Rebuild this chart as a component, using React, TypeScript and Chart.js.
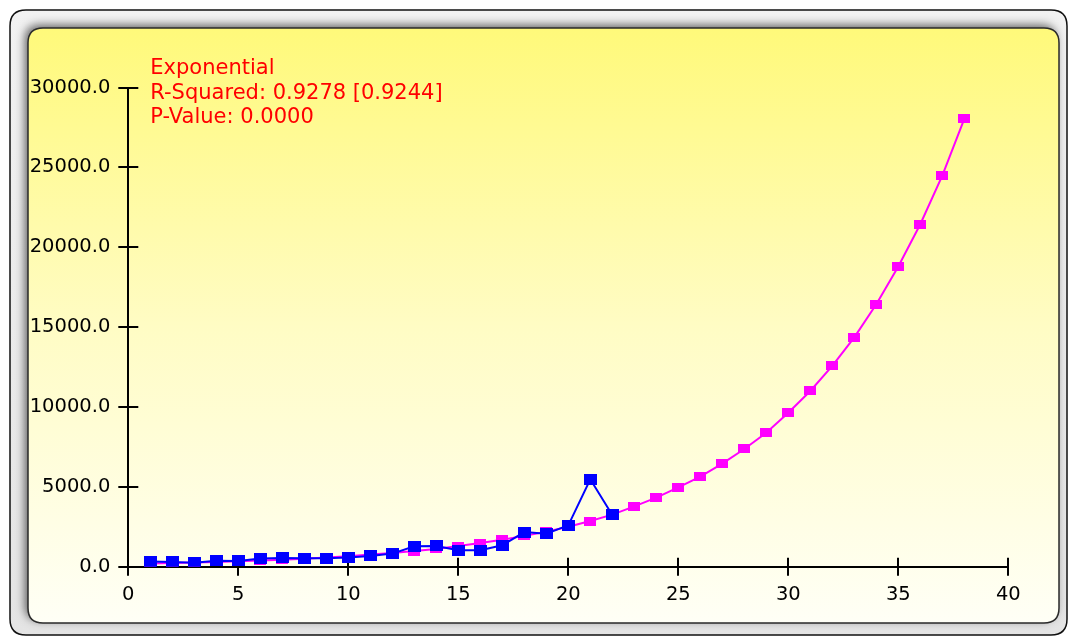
import React, { useEffect, useRef } from "react";
import { Chart, registerables } from "chart.js";

Chart.register(...registerables);

const observedX = [1, 2, 3, 4, 5, 6, 7, 8, 9, 10, 11, 12, 13, 14, 15, 16, 17, 18, 19, 20, 21, 22];
const observedY = [320, 300, 240, 380, 360, 510, 550, 530, 530, 570, 670, 820, 1280, 1300, 1030, 1030, 1340, 2170, 2070, 2590, 5470, 3240];

const fitX = [1, 2, 3, 4, 5, 6, 7, 8, 9, 10, 11, 12, 13, 14, 15, 16, 17, 18, 19, 20, 21, 22, 23, 24, 25, 26, 27, 28, 29, 30, 31, 32, 33, 34, 35, 36, 37, 38];
const fitY = [200, 230, 260, 300, 340, 390, 440, 500, 570, 660, 760, 860, 980, 1110, 1290, 1480, 1690, 1930, 2190, 2500, 2860, 3260, 3780, 4320, 4970, 5640, 6450, 7370, 8390, 9640, 11000, 12570, 14360, 16430, 18790, 21440, 24480, 28030];

const xTicks = [0, 5, 10, 15, 20, 25, 30, 35, 40];
const yTicks = [0, 5000, 10000, 15000, 20000, 25000, 30000];

const annotationLines = ["Exponential", "R-Squared: 0.9278 [0.9244]", "P-Value: 0.0000"];

const W = 1068;
const H = 637;

function makeRect(w: number, h: number, color: string) {
  const c = document.createElement("canvas");
  c.width = w;
  c.height = h;
  const g = c.getContext("2d")!;
  g.fillStyle = color;
  g.fillRect(0, 0, w, h);
  return c;
}

function roundRect(ctx: CanvasRenderingContext2D, x: number, y: number, w: number, h: number, r: number) {
  ctx.beginPath();
  ctx.moveTo(x + r, y);
  ctx.lineTo(x + w - r, y);
  ctx.quadraticCurveTo(x + w, y, x + w, y + r);
  ctx.lineTo(x + w, y + h - r);
  ctx.quadraticCurveTo(x + w, y + h, x + w - r, y + h);
  ctx.lineTo(x + r, y + h);
  ctx.quadraticCurveTo(x, y + h, x, y + h - r);
  ctx.lineTo(x, y + r);
  ctx.quadraticCurveTo(x, y, x + r, y);
  ctx.closePath();
}

const framePlugin = {
  id: "frame",
  beforeDraw(chart: any) {
    const ctx: CanvasRenderingContext2D = chart.ctx;
    ctx.save();
    ctx.fillStyle = "#ffffff";
    ctx.fillRect(0, 0, W, H);
    roundRect(ctx, 10, 10, 1057, 625, 16);
    const og = ctx.createLinearGradient(0, 10, 0, 635);
    og.addColorStop(0, "#f2f2f2");
    og.addColorStop(1, "#e4e4e4");
    ctx.fillStyle = og;
    ctx.fill();
    ctx.save();
    roundRect(ctx, 10, 10, 1057, 625, 16);
    ctx.clip();
    ctx.shadowColor = "rgba(0,0,0,0.6)";
    ctx.shadowBlur = 10;
    ctx.shadowOffsetX = -3;
    ctx.shadowOffsetY = -3;
    roundRect(ctx, 28, 28, 1031, 595, 15);
    ctx.fillStyle = "#888";
    ctx.fill();
    ctx.restore();
    roundRect(ctx, 10, 10, 1057, 625, 16);
    ctx.lineWidth = 1.5;
    ctx.strokeStyle = "#111";
    ctx.stroke();
    roundRect(ctx, 28, 28, 1031, 595, 15);
    const pg = ctx.createLinearGradient(0, 28, 0, 623);
    pg.addColorStop(0, "#fff97a");
    pg.addColorStop(0.5, "#fffcc4");
    pg.addColorStop(1, "#fffff6");
    ctx.fillStyle = pg;
    ctx.fill();
    ctx.lineWidth = 1.5;
    ctx.strokeStyle = "#2a2a2a";
    ctx.stroke();
    ctx.restore();
  },
  beforeDatasetsDraw(chart: any) {
    const ctx: CanvasRenderingContext2D = chart.ctx;
    const xs = chart.scales.x;
    const ys = chart.scales.y;
    ctx.save();
    ctx.strokeStyle = "#000";
    ctx.lineWidth = 2;
    ctx.beginPath();
    xTicks.forEach((v) => {
      const px = Math.round(xs.getPixelForValue(v));
      ctx.moveTo(px, ys.bottom);
      ctx.lineTo(px, ys.bottom - 9);
    });
    yTicks.forEach((v) => {
      const py = Math.round(ys.getPixelForValue(v));
      ctx.moveTo(xs.left, py);
      ctx.lineTo(xs.left + 10, py);
    });
    ctx.stroke();
    ctx.fillStyle = "#ff0000";
    ctx.font = "21px 'DejaVu Sans'";
    ctx.textBaseline = "alphabetic";
    ctx.textAlign = "left";
    const tx = chart.chartArea.left + 22;
    const ty = chart.chartArea.top - 13.5;
    annotationLines.forEach((t, i) => ctx.fillText(t, tx, ty + i * 24.5));
    ctx.restore();
  },
};

export default function App() {
  const ref = useRef<HTMLCanvasElement>(null);
  useEffect(() => {
    const canvas = ref.current!;
    const pinkMarker = makeRect(12, 9, "#ff00ff");
    const blueMarker = makeRect(13, 11, "#0000ff");
    const chart = new Chart(canvas, {
      type: "line",
      data: {
        datasets: [
          {
            label: "Observed",
            data: observedX.map((x, i) => ({ x, y: observedY[i] })),
            borderColor: "#0000ff",
            backgroundColor: "#0000ff",
            borderWidth: 2,
            pointStyle: blueMarker as any,
            pointRadius: 6,
            pointHoverRadius: 6,
            tension: 0,
            order: 0,
          },
          {
            label: "Exponential",
            data: fitX.map((x, i) => ({ x, y: fitY[i] })),
            borderColor: "#ff00ff",
            backgroundColor: "#ff00ff",
            borderWidth: 2,
            pointStyle: pinkMarker as any,
            pointRadius: 6,
            pointHoverRadius: 6,
            tension: 0,
            order: 1,
          },
        ],
      },
      options: {
        responsive: false,
        animation: false,
        devicePixelRatio: 1,
        events: [],
        layout: { padding: { left: 0, top: 87.5, right: 59.7, bottom: 0 } },
        plugins: { legend: { display: false }, tooltip: { enabled: false } },
        scales: {
          x: {
            type: "linear",
            min: 0,
            max: 40,
            afterFit: (s: any) => {
              s.height = 70.3;
            },
            afterBuildTicks: (s: any) => {
              s.ticks = xTicks.map((v) => ({ value: v }));
            },
            ticks: {
              color: "#000",
              font: { family: "'DejaVu Sans'", size: 19.5 },
              padding: 8,
              maxRotation: 0,
              autoSkip: false,
              callback: (v: any) => String(v),
            },
            grid: { drawOnChartArea: false, drawTicks: true, tickLength: 9, color: "#000", lineWidth: 2 },
            border: { display: true, color: "#000", width: 2 },
          },
          y: {
            type: "linear",
            min: 0,
            max: 30000,
            afterFit: (s: any) => {
              s.width = 128.3;
            },
            afterBuildTicks: (s: any) => {
              s.ticks = yTicks.map((v) => ({ value: v }));
            },
            ticks: {
              color: "#000",
              font: { family: "'DejaVu Sans'", size: 19.5 },
              padding: 8,
              autoSkip: false,
              callback: (v: any) => Number(v).toFixed(1),
            },
            grid: { drawOnChartArea: false, drawTicks: true, tickLength: 10, color: "#000", lineWidth: 2 },
            border: { display: true, color: "#000", width: 2 },
          },
        },
      },
      plugins: [framePlugin],
    });
    return () => chart.destroy();
  }, []);
  return (
    <div style={{ position: "absolute", left: 0, top: 0, width: W, height: H }}>
      <canvas ref={ref} width={W} height={H} style={{ display: "block", width: W, height: H }} />
    </div>
  );
}
